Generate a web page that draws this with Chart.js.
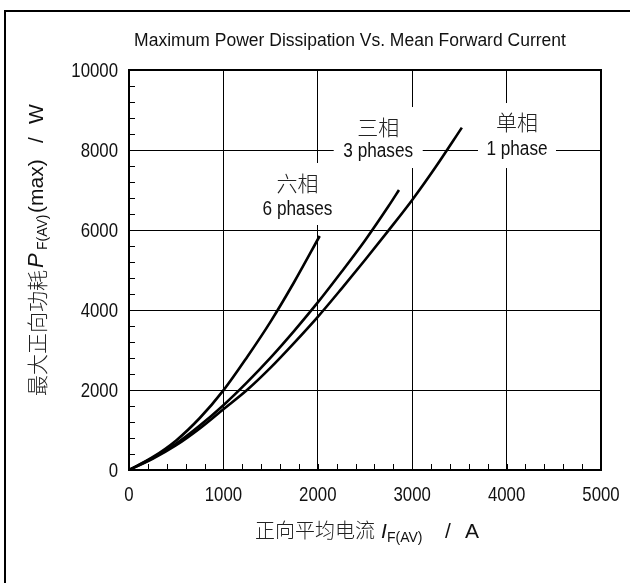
<!DOCTYPE html>
<html>
<head>
<meta charset="utf-8">
<script src="https://cdn.jsdelivr.net/npm/chart.js@4"></script>
<style>
  html, body { margin: 0; padding: 0; background: #fff; overflow: hidden; }
  #wrap { position: absolute; left: 0; top: 0; width: 630px; height: 583px; }
  #frame { position: absolute; left: 4px; top: 10px; width: 660px; height: 620px; border: 2px solid #000; }
</style>
</head>
<body>
<div id="frame"></div>
<div id="wrap"><canvas id="powerChart"></canvas></div>
<script>
// forward current (A) / power (W)
const current1Phase = [0, 250, 500, 750, 1000, 1250, 1500, 1750, 2000, 2250, 2500, 2750, 3000, 3250, 3526];
const power1Phase   = [0, 280, 620, 1040, 1520, 2000, 2560, 3180, 3830, 4530, 5250, 5990, 6750, 7580, 8560];
const current3Phase = [0, 250, 500, 750, 1000, 1250, 1500, 1750, 2000, 2250, 2500, 2750, 2860];
const power3Phase   = [0, 300, 660, 1110, 1620, 2190, 2810, 3480, 4190, 4950, 5740, 6600, 7000];
const current6Phase = [0, 250, 500, 750, 1000, 1250, 1500, 1750, 2020];
const power6Phase   = [0, 320, 740, 1300, 1990, 2820, 3710, 4700, 5850];

const xMajor = 1000, xMinor = 200, xMax = 5000;
const yMajor = 2000, yMinor = 400, yMax = 10000;

const LATIN = "'Liberation Sans', Arial, sans-serif";
const CJK = "'Noto Sans CJK SC', sans-serif";
const NARROW = 0.8; // the original uses a condensed face

function points(xs, ys) {
  return xs.map((v, i) => ({ x: v, y: ys[i] }));
}

// phase labels: box centre in data units, box size and text offsets in px
const phaseLabels = [
  { cn: '六相', en: '6 phases', x: 1785, y: 6900, w: 86, h: 62, dyCn: -11, dyEn: 15 },
  { cn: '三相', en: '3 phases', x: 2640, y: 8312, w: 89, h: 61, dyCn: -11, dyEn: 14 },
  { cn: '单相', en: '1 phase',  x: 4110, y: 8362, w: 78, h: 65, dyCn: -14, dyEn: 14 }
];

function narrowText(ctx, text, px, py, sx) {
  ctx.save();
  ctx.translate(px, py);
  ctx.scale(sx, 1);
  ctx.fillText(text, 0, 0);
  ctx.restore();
}

const decor = {
  id: 'decor',
  beforeDatasetsDraw(chart) {
    const { ctx, chartArea: a, scales: { x, y } } = chart;
    ctx.save();
    ctx.strokeStyle = '#000';
    ctx.lineWidth = 1;
    // inward minor ticks
    x.ticks.forEach(t => {
      const px = Math.round(x.getPixelForValue(t.value)) + 0.5;
      ctx.beginPath(); ctx.moveTo(px, a.bottom); ctx.lineTo(px, a.bottom - 6); ctx.stroke();
    });
    y.ticks.forEach(t => {
      const py = Math.round(y.getPixelForValue(t.value)) + 0.5;
      ctx.beginPath(); ctx.moveTo(a.left, py); ctx.lineTo(a.left + 6, py); ctx.stroke();
    });
    // phase labels over the grid
    ctx.textAlign = 'center';
    ctx.textBaseline = 'middle';
    phaseLabels.forEach(l => {
      const px = x.getPixelForValue(l.x), py = y.getPixelForValue(l.y);
      ctx.fillStyle = '#fff';
      ctx.fillRect(px - l.w / 2, py - l.h / 2, l.w, l.h);
      ctx.fillStyle = '#222';
      ctx.font = '300 21px ' + CJK;
      ctx.fillText(l.cn, px, py + l.dyCn);
      ctx.fillStyle = '#111';
      ctx.font = '20px ' + LATIN;
      narrowText(ctx, l.en, px, py + l.dyEn, 0.86);
    });
    // plot frame
    ctx.lineWidth = 2;
    ctx.strokeRect(a.left, a.top, a.width, a.height);
    ctx.restore();
  },
  afterDraw(chart) {
    const { ctx, chartArea: a, scales: { x, y } } = chart;
    ctx.save();
    ctx.fillStyle = '#111';
    // tick labels
    ctx.font = '21px ' + LATIN;
    ctx.textBaseline = 'middle';
    ctx.textAlign = 'center';
    x.ticks.forEach(t => {
      if (t.value % xMajor === 0) narrowText(ctx, String(t.value), x.getPixelForValue(t.value), a.bottom + 25, NARROW);
    });
    ctx.textAlign = 'right';
    y.ticks.forEach(t => {
      if (t.value % yMajor === 0) narrowText(ctx, String(t.value), a.left - 11, y.getPixelForValue(t.value) + 1, NARROW);
    });
    // title
    ctx.textBaseline = 'alphabetic';
    ctx.textAlign = 'center';
    ctx.font = '17.5px ' + LATIN;
    ctx.fillText('Maximum Power Dissipation Vs. Mean Forward Current', 350, 46);
    ctx.textAlign = 'left';
    // x axis title, runs placed along the baseline
    const xRuns = [
      { text: '正向平均电流', font: '300 20px ' + CJK, at: 255, dy: 0, c: '#222' },
      { text: 'I', font: 'italic 21px ' + LATIN, at: 381, dy: 0 },
      { text: 'F(AV)', font: '14px ' + LATIN, at: 387, dy: 4 },
      { text: '/', font: '21px ' + LATIN, at: 445, dy: 0 },
      { text: 'A', font: '21px ' + LATIN, at: 465, dy: 0 }
    ];
    xRuns.forEach(r => { ctx.fillStyle = r.c || '#111'; ctx.font = r.font; ctx.fillText(r.text, r.at, 538 + r.dy); });
    // y axis title, rotated, runs placed upward from the given canvas y
    const yRuns = [
      { text: '最大正向功耗', font: '300 21px ' + CJK, at: 396, dy: 2, c: '#222' },
      { text: 'P', font: 'italic 22px ' + LATIN, at: 268, dy: 0 },
      { text: 'F(AV)', font: '14px ' + LATIN, at: 250, dy: 4 },
      { text: '(max)', font: '21px ' + LATIN, at: 213, dy: 0 },
      { text: '/', font: '21px ' + LATIN, at: 143, dy: 0 },
      { text: 'W', font: '21px ' + LATIN, at: 124, dy: 0 }
    ];
    yRuns.forEach(r => {
      ctx.save();
      ctx.translate(43 + r.dy, r.at);
      ctx.rotate(-Math.PI / 2);
      ctx.fillStyle = r.c || '#111';
      ctx.font = r.font;
      ctx.fillText(r.text, 0, 0);
      ctx.restore();
    });
    ctx.restore();
  }
};

function curve(label, xs, ys) {
  return {
    label: label,
    data: points(xs, ys),
    borderColor: '#000',
    borderWidth: 2.6,
    pointRadius: 0,
    fill: false,
    cubicInterpolationMode: 'monotone'
  };
}

new Chart(document.getElementById('powerChart'), {
  type: 'line',
  data: {
    datasets: [
      curve('1 phase', current1Phase, power1Phase),
      curve('3 phases', current3Phase, power3Phase),
      curve('6 phases', current6Phase, power6Phase)
    ]
  },
  options: {
    responsive: true,
    maintainAspectRatio: false,
    animation: false,
    events: [],
    layout: { padding: { top: 70, right: 29, left: 0, bottom: 0 } },
    plugins: { legend: { display: false }, tooltip: { enabled: false } },
    scales: {
      x: {
        type: 'linear',
        min: 0, max: xMax,
        afterFit: s => { s.height = 113; },
        border: { display: false },
        grid: {
          drawTicks: false,
          lineWidth: 1,
          color: c => (c.tick && c.tick.value % xMajor === 0) ? '#000' : 'rgba(0,0,0,0)'
        },
        ticks: { stepSize: xMinor, autoSkip: false, maxRotation: 0, display: false }
      },
      y: {
        type: 'linear',
        min: 0, max: yMax,
        afterFit: s => { s.width = 129; },
        border: { display: false },
        grid: {
          drawTicks: false,
          lineWidth: 1,
          color: c => (c.tick && c.tick.value % yMajor === 0) ? '#000' : 'rgba(0,0,0,0)'
        },
        ticks: { stepSize: yMinor, autoSkip: false, display: false }
      }
    }
  },
  plugins: [decor]
});
</script>
</body>
</html>
